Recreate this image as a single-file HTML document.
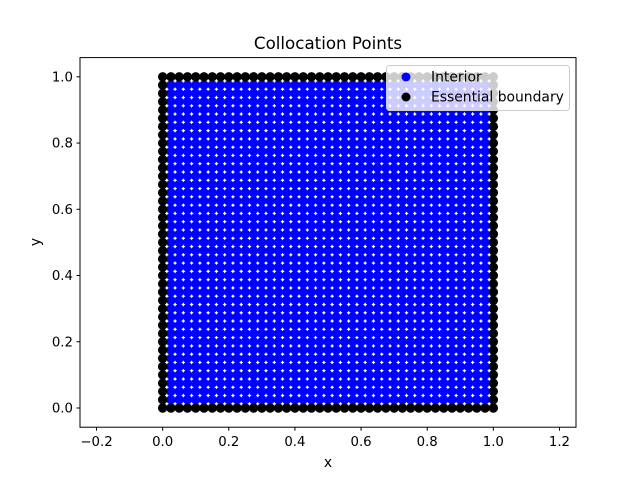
<!DOCTYPE html>
<html><head><meta charset="utf-8"><style>
body{margin:0;background:#fff;}
svg{display:block;font-family:"DejaVu Sans","Liberation Sans",sans-serif;}
</style></head><body>
<svg id="chart" width="640" height="480">
<rect width="640" height="480" fill="#fff"/>
<text x="328" y="49" text-anchor="middle" font-size="16.7">Collocation Points</text>
<g id="marks"></g>
<rect x="80" y="57.6" width="496" height="369.6" fill="none" stroke="#000" stroke-width="1"/>
<g id="ticks" font-size="13.3"></g>
<text x="328" y="467" text-anchor="middle" font-size="13.9">x</text>
<text x="40" y="242" text-anchor="middle" font-size="13.9" transform="rotate(-90 40 242)">y</text>
<g>
<rect x="386.5" y="65.5" width="183" height="45" rx="3" fill="#fff" fill-opacity="0.8" stroke="#ccc"/>
<circle cx="406" cy="77" r="4.5" fill="#0000ff"/>
<text x="431" y="81.5" font-size="13.9">Interior</text>
<circle cx="406" cy="97" r="4.5" fill="#000"/>
<text x="431" y="101.5" font-size="13.9">Essential boundary</text>
</g>
</svg>
<script>
const gridCount = 41;
const xTicks = [-0.2, 0.0, 0.2, 0.4, 0.6, 0.8, 1.0, 1.2];
const yTicks = [0.0, 0.2, 0.4, 0.6, 0.8, 1.0];
const xDomain = [-0.25, 1.25];
const yDomain = [-0.058, 1.058];
const NS = "http://www.w3.org/2000/svg";
const sx = v => 80 + (v - xDomain[0]) / (xDomain[1] - xDomain[0]) * 496;
const sy = v => 427.2 - (v - yDomain[0]) / (yDomain[1] - yDomain[0]) * 369.6;
const marks = document.getElementById("marks");
const ticks = document.getElementById("ticks");
const interiorPts = [], boundaryPts = [];
for (let i = 0; i < gridCount; i++) for (let j = 0; j < gridCount; j++) {
  const p = [i / (gridCount - 1), j / (gridCount - 1)];
  if (i === 0 || j === 0 || i === gridCount - 1 || j === gridCount - 1) boundaryPts.push(p); else interiorPts.push(p);
}
function dot(p, fill, name) {
  const c = document.createElementNS(NS, "circle");
  c.setAttribute("cx", sx(p[0])); c.setAttribute("cy", sy(p[1])); c.setAttribute("r", 4.7); c.setAttribute("fill", fill);
  
  
  marks.appendChild(c);
}
interiorPts.forEach(p => dot(p, "#0000ff", "interior-point"));
boundaryPts.forEach(p => dot(p, "#000000", "boundary-point"));
xTicks.forEach(v => {
  const x = sx(v);
  const l = document.createElementNS(NS, "line");
  l.setAttribute("x1", x); l.setAttribute("x2", x); l.setAttribute("y1", 427.2); l.setAttribute("y2", 430.7); l.setAttribute("stroke", "#000");
  
  
  ticks.appendChild(l);
  const t = document.createElementNS(NS, "text");
  t.setAttribute("x", x); t.setAttribute("y", 446); t.setAttribute("text-anchor", "middle");
  t.textContent = v.toFixed(1).replace("-", "\u2212");
  
  
  ticks.appendChild(t);
});
yTicks.forEach(v => {
  const y = sy(v);
  const l = document.createElementNS(NS, "line");
  l.setAttribute("x1", 76.5); l.setAttribute("x2", 80); l.setAttribute("y1", y); l.setAttribute("y2", y); l.setAttribute("stroke", "#000");
  
  
  ticks.appendChild(l);
  const t = document.createElementNS(NS, "text");
  t.setAttribute("x", 73); t.setAttribute("y", y + 4.5); t.setAttribute("text-anchor", "end");
  t.textContent = v.toFixed(1);
  
  
  ticks.appendChild(t);
});
</script>
</body></html>
